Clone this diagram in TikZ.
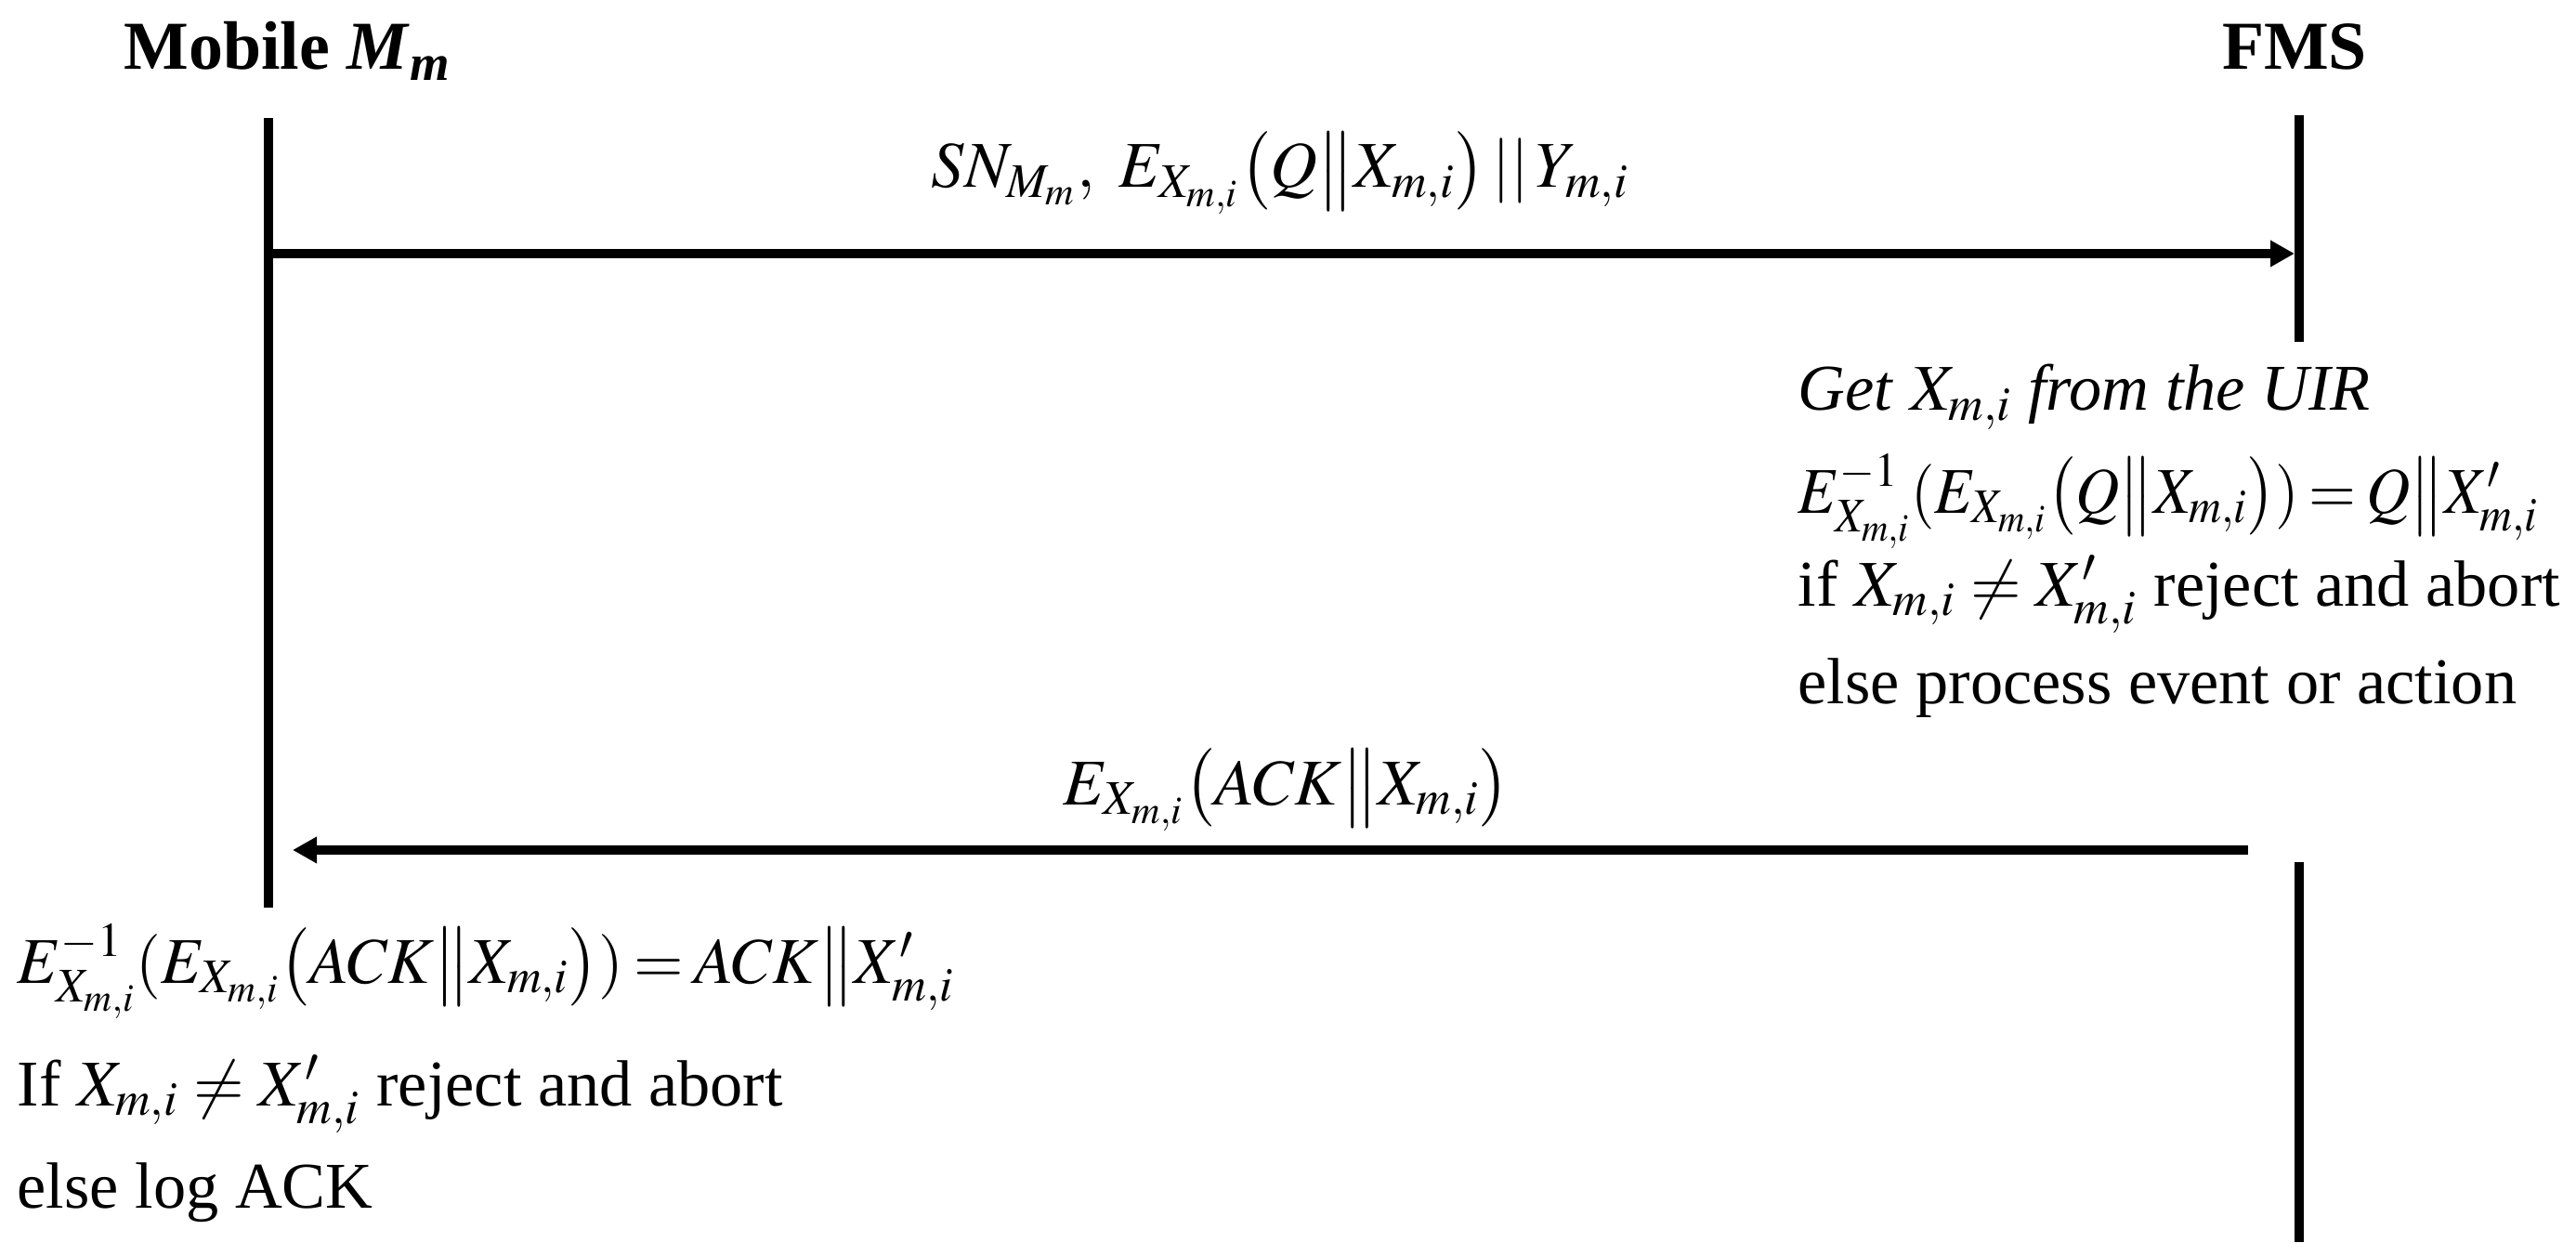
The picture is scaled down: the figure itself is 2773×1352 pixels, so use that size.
\documentclass[tikz,border=0pt]{standalone}
\usepackage{mathptmx}
\usepackage{fontspec}
\usepackage{graphicx}
\setmainfont{Liberation Serif}
\usetikzlibrary{arrows.meta}
\newcommand{\eqsm}{\mskip3mu{=}\mskip3mu}

\begin{document}
\begin{tikzpicture}[x=0.01cm,y=-0.01cm,
  life/.style={line width=0.1cm},
  msg/.style={line width=0.1cm,-{Triangle[length=0.26cm,width=0.27cm]}},
  txt/.style={anchor=base west,inner sep=0pt,font=\fontsize{20}{24}\selectfont},
  lbl/.style={anchor=base,inner sep=0pt,font=\fontsize{20}{24}\selectfont},
  head/.style={anchor=base,inner sep=0pt,font=\fontsize{21}{25}\selectfont\bfseries}]
\useasboundingbox (0,0) rectangle (2773,1352);
\node[head, anchor=base west] (mob) at (133,75) {Mobile \textit{M}\textsubscript{\textit{m}}};
\node[head] (fms) at (2470,75) {FMS};
\coordinate (m0) at (289,127);
\coordinate (m1) at (289,977);
\coordinate (f0) at (2475,124);
\coordinate (f1) at (2475,368);
\coordinate (f2) at (2475,928);
\coordinate (f3) at (2475,1337);
\draw[life] (m0) -- (m1);
\draw[life] (f0) -- (f1);
\draw[life] (f2) -- (f3);
\coordinate (a1) at (289,273);
\coordinate (b1) at (2470,273);
\draw[msg] (a1) -- (b1);
\node[lbl] (req) at (1378,202) {$SN_{M_m},\ E_{X_{m,i}}\bigl(Q\big\|X_{m,i}\bigr)\,||\,Y_{m,i}$};
\node[txt] (f_get) at (1935,442) {\textit{Get} $X_{m,i}$ \textit{from the UIR}};
\node[txt] (f_dec) at (1935,552) {\scalebox{0.93}[1]{$E^{-1}_{X_{m,i}}(E_{X_{m,i}}\bigl(Q\big\|X_{m,i}\bigr))\eqsm Q\big\|X^{\prime}_{m,i}$}};
\node[txt] (f_chk) at (1935,652) {if $X_{m,i}\neq X^{\prime}_{m,i}$ reject and abort};
\node[txt] (f_act) at (1935,757) {else process event or action};
\coordinate (a2) at (2420,915);
\coordinate (b2) at (315,915);
\draw[msg] (a2) -- (b2);
\node[lbl] (ack) at (1385,866) {$E_{X_{m,i}}\bigl(ACK\big\|X_{m,i}\bigr)$};
\node[txt] (m_dec) at (18,1058) {\scalebox{0.98}[1]{$E^{-1}_{X_{m,i}}(E_{X_{m,i}}\bigl(ACK\big\|X_{m,i}\bigr))\eqsm ACK\big\|X^{\prime}_{m,i}$}};
\node[txt] (m_chk) at (18,1190) {If $X_{m,i}\neq X^{\prime}_{m,i}$ reject and abort};
\node[txt] (m_log) at (18,1300) {else log ACK};
\end{tikzpicture}
\end{document}
